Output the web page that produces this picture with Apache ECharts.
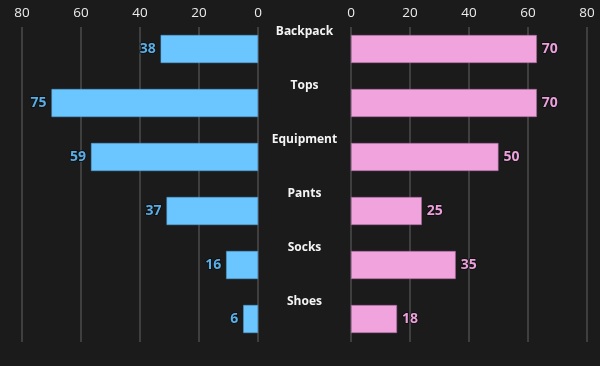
<!DOCTYPE html>
<html>
<head>
<meta charset="utf-8">
<script src="https://cdn.jsdelivr.net/npm/echarts@6/dist/echarts.min.js"></script>
<style>
html,body{margin:0;padding:0;background:#1b1b1b;}
#c{width:600px;height:366px;}
</style>
</head>
<body>
<div id="c"></div>
<script>
const categories = ['Backpack', 'Tops', 'Equipment', 'Pants', 'Socks', 'Shoes'];
const leftValues = [33, 70, 56.6, 31, 10.8, 5];
const leftLabels = ['38', '75', '59', '37', '16', '6'];
const rightValues = [63, 63, 50, 24, 35.5, 15.6];
const rightLabels = ['70', '70', '50', '25', '35', '18'];
const axisMin = 0, axisMax = 80, axisStep = 20;

const chart = echarts.init(document.getElementById('c'), null, {renderer: 'canvas'});
const font = '"Open Sans", "Noto Sans", sans-serif';
const gridAxisTop = 27, gridAxisH = 315;
const barTop = 22, barH = 324;
const leftL = 22, leftW = 236, rightL = 351, rightW = 236;

function valAxis(gi, inverse, show) {
  return {
    type: 'value', gridIndex: gi, min: axisMin, max: axisMax, interval: axisStep,
    inverse: inverse, position: 'top',
    show: true,
    axisLine: {show: false}, axisTick: {show: false},
    axisLabel: {show: show, color: '#ececec', fontSize: 13.5, fontFamily: font, margin: 7},
    splitLine: {show: show, lineStyle: {color: '#4d4d4d', width: 1.5}}
  };
}
function catAxis(gi, showLabel) {
  return {
    type: 'category', gridIndex: gi, data: categories, inverse: true,
    axisLine: {show: false}, axisTick: {show: false},
    axisLabel: showLabel ? {
      show: true, inside: true, margin: 46.5, align: 'center',
      color: '#f4f4f4', fontWeight: 'bold', fontSize: 12, fontFamily: font
    } : {show: false},
    splitLine: {show: false}
  };
}

chart.setOption({
  backgroundColor: '#1b1b1b',
  animation: false,
  grid: [
    {left: leftL, width: leftW, top: gridAxisTop, height: gridAxisH},
    {left: rightL, width: rightW, top: gridAxisTop, height: gridAxisH},
    {left: leftL, width: leftW, top: barTop, height: barH},
    {left: rightL, width: rightW, top: barTop, height: barH},
    {left: 258, width: 93, top: 5, height: barH}
  ],
  xAxis: [
    valAxis(0, true, true),
    valAxis(1, false, true),
    valAxis(2, true, false),
    valAxis(3, false, false),
    {type: 'value', gridIndex: 4, min: 0, max: 1, show: false}
  ],
  yAxis: [
    catAxis(0, false), catAxis(1, false), catAxis(2, false), catAxis(3, false), catAxis(4, true)
  ],
  series: [
    {
      type: 'bar', xAxisIndex: 2, yAxisIndex: 2, data: leftValues, barWidth: 28,
      itemStyle: {color: '#6bc6ff', borderColor: '#4f9fd6', borderWidth: 0.5},
      label: {
        show: true, position: 'left', distance: 5,
        formatter: p => leftLabels[p.dataIndex],
        color: '#5aaee6', fontWeight: 'bold', fontSize: 14, fontFamily: font,
        textBorderColor: '#0d0d0d', textBorderWidth: 1.5
      }
    },
    {
      type: 'bar', xAxisIndex: 3, yAxisIndex: 3, data: rightValues, barWidth: 28,
      itemStyle: {color: '#f0a3dd', borderColor: '#a8689f', borderWidth: 0.6},
      label: {
        show: true, position: 'right', distance: 5,
        formatter: p => rightLabels[p.dataIndex],
        color: '#eaa0da', fontWeight: 'bold', fontSize: 14, fontFamily: font,
        textBorderColor: '#0d0d0d', textBorderWidth: 1.5
      }
    }
  ]
});
</script>
</body>
</html>
